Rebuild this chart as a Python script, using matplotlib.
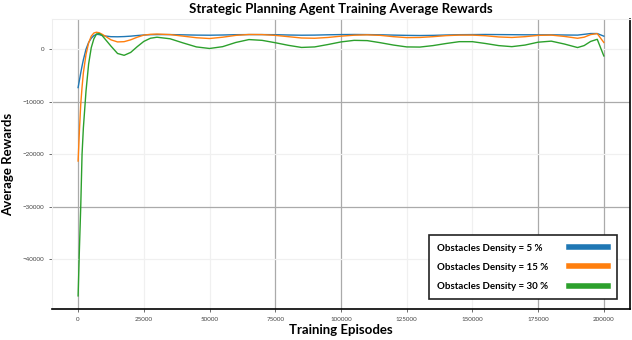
import numpy as np
import matplotlib.pyplot as plt

plt.rcParams['font.family'] = ['Lato', 'DejaVu Sans']

episodes = [0, 500, 1000, 1500, 2000, 3000, 4000, 5000, 6000, 7000, 8000, 9000, 10000,
            12500, 15000, 17500, 20000, 22500, 25000, 27500, 30000, 35000, 40000, 45000,
            50000, 55000, 60000, 65000, 70000, 75000, 80000, 85000, 90000, 95000, 100000,
            105000, 110000, 115000, 120000, 125000, 130000, 135000, 140000, 145000, 150000,
            155000, 160000, 165000, 170000, 175000, 180000, 185000, 190000, 192500, 195000,
            197500, 200000]

reward_5 = [-7300, -5900, -4500, -3200, -2000, 0, 1300, 2100, 2600, 2850, 2800, 2650, 2550,
            2400, 2380, 2420, 2500, 2620, 2720, 2780, 2800, 2800, 2750, 2700,
            2680, 2720, 2780, 2800, 2800, 2780, 2720, 2680, 2700, 2760, 2800,
            2820, 2800, 2760, 2700, 2650, 2620, 2650, 2720, 2780, 2800,
            2820, 2800, 2780, 2760, 2750, 2760, 2720, 2700, 2850, 3000,
            3000, 2500]

reward_15 = [-21300, -15500, -10500, -7200, -4500, -1000, 1200, 2500, 3100, 3250, 3150, 2900, 2600,
             1800, 1400, 1450, 1800, 2300, 2700, 2850, 2900, 2800, 2500, 2200,
             2050, 2300, 2650, 2820, 2800, 2650, 2400, 2150, 2100, 2250, 2500,
             2680, 2750, 2650, 2400, 2220, 2250, 2400, 2600, 2700, 2700,
             2580, 2350, 2250, 2400, 2650, 2700, 2450, 2100, 2300, 2800,
             2980, 1300]

reward_30 = [-47000, -38000, -30000, -20000, -15000, -8000, -2800, 300, 2000, 2900, 3000, 2700, 2100,
             600, -800, -1150, -600, 500, 1500, 2100, 2300, 2000, 1200, 450,
             150, 500, 1300, 1850, 1700, 1250, 750, 350, 450, 900, 1400,
             1700, 1650, 1250, 800, 450, 420, 700, 1100, 1450, 1450,
             1100, 700, 500, 800, 1350, 1550, 1000, 330, 700, 1500,
             1900, -1270]

labels = ['Obstacles Density = 5 %', 'Obstacles Density = 15 %', 'Obstacles Density = 30 %']
colors = ['#1f77b4', '#ff7f0e', '#2ca02c']

fig = plt.figure(figsize=(6.32, 3.4), dpi=100)
ax = fig.add_axes([0.082, 0.091, 0.915, 0.853])

for r, lab, c in zip([reward_5, reward_15, reward_30], labels, colors):
    ax.plot(episodes, r, color=c, lw=1.0, label=lab)

ax.set_xticks(np.arange(0, 200001, 25000))
ax.set_yticks([-40000, -30000, -20000, -10000, 0])
ax.tick_params(labelsize=4.5, labelcolor='#444444', length=2, width=0.6, color='#555555')

ax.grid(True, color='#aaaaaa', lw=0.9)
# some grid lines come out much fainter in the original
for i, gl in enumerate(ax.get_xgridlines()):
    if i in (1, 2, 5, 6):
        gl.set_color('#f0f0f0')
for i, gl in enumerate(ax.get_ygridlines()):
    if i in (0, 2, 4):
        gl.set_color('#f0f0f0')
ax.set_axisbelow(True)

ax.spines['left'].set_color('#eeeeee')
ax.spines['top'].set_color('#eeeeee')
ax.spines['right'].set_color('black')
ax.spines['bottom'].set_color('black')
ax.spines['right'].set_linewidth(1.2)
ax.spines['bottom'].set_linewidth(1.2)

ax.set_title('Strategic Planning Agent Training Average Rewards', fontsize=9.5,
             fontweight='bold', pad=4)
ax.set_xlabel('Training Episodes', fontsize=9.5, fontweight='bold', labelpad=2)
ax.set_ylabel('Average Rewards', fontsize=9.5, fontweight='bold', labelpad=6)

leg = ax.legend(loc='lower right', bbox_to_anchor=(0.985, 0.017), markerfirst=False,
                prop={'weight': 'bold', 'size': 7}, handlelength=4.0, handletextpad=1.5,
                borderpad=0.85, labelspacing=1.05, fancybox=False, framealpha=1)
leg.get_frame().set_edgecolor('#222222')
leg.get_frame().set_linewidth(1.2)
for line in leg.get_lines():
    line.set_linewidth(4)
# left-align the labels, keep the colour bars flush right
for col in leg._legend_handle_box.get_children():
    col.align = 'left'
    for row in col.get_children():
        row.mode = 'expand'
        row.width = 171

fig.savefig('out.png', dpi=100)
